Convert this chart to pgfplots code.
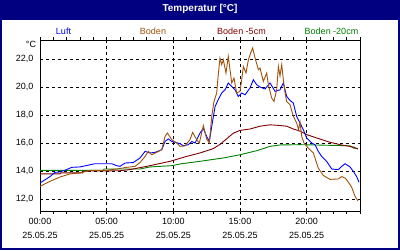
\documentclass[border=0pt]{standalone}
\usepackage{pgfplots}
\pgfplotsset{compat=1.18}
\usepackage{fontspec}
\setmainfont{Liberation Sans}
\definecolor{navy}{RGB}{0,0,128}
\definecolor{cLuft}{RGB}{0,0,255}
\definecolor{cBoden}{RGB}{160,82,10}
\definecolor{cB5}{RGB}{128,0,0}
\definecolor{cB20}{RGB}{0,128,0}
\begin{document}
\begin{tikzpicture}[x=1pt,y=1pt]
\fill[navy] (0,0) rectangle (400,250);
\fill[white] (2,2) rectangle (398,230);
\node[white,font=\fontsize{10}{12}\selectfont\bfseries] at (200,241) {Temperatur [°C]};
\node[cLuft,font=\fontsize{9}{11}\selectfont] at (63.5,219) {Luft};
\node[cBoden,font=\fontsize{9}{11}\selectfont] at (153,219) {Boden};
\node[cB5,font=\fontsize{9}{11}\selectfont] at (241.5,219) {Boden -5cm};
\node[cB20,font=\fontsize{9}{11}\selectfont] at (331.5,219) {Boden -20cm};
\node[black,font=\fontsize{9}{11}\selectfont] at (31,206) {°C};
\begin{axis}[
  at={(40pt,39pt)}, anchor=south west,
  scale only axis, width=320pt, height=171pt,
  xmin=0, xmax=24, ymin=11.14, ymax=23.36,
  axis line style={black, line width=0.8pt},
  xtick={0,5,10,15,20},
  xticklabels={{00:00\\25.05.25},{05:00\\25.05.25},{10:00\\25.05.25},{15:00\\25.05.25},{20:00\\25.05.25}},
  xticklabel style={align=center, font=\fontsize{9}{14}\selectfont, yshift=-1pt},
  minor xtick={1,2,3,4,6,7,8,9,11,12,13,14,16,17,18,19,21,22,23,24},
  ytick={12,14,16,18,20,22},
  yticklabels={{12,0},{14,0},{16,0},{18,0},{20,0},{22,0}},
  yticklabel style={font=\fontsize{9}{11}\selectfont},
  ytick style={draw=none},
  tick align=outside,
  major tick length=3pt, minor tick length=3pt,
  x tick style={black, line width=0.6pt},
  grid=major,
  major grid style={black, dashed, line width=0.6pt, dash pattern=on 3pt off 3pt},
  every axis plot/.append style={line width=0.9pt, mark=none},
  clip=true,
]
% Boden -20cm
\addplot[cB20] coordinates {
(0,14.04) (4.75,14.04) (4.8,14.14) (7.5,14.14) (8.25,14.29) (9.88,14.38) (10.63,14.52)
(12.0,14.69) (12.5,14.76) (13.75,14.93) (15.0,15.16) (16.25,15.45) (16.75,15.6)
(17.25,15.76) (18.0,15.86) (19.5,15.88) (21.0,15.85) (23.25,15.8) (23.5,15.64) (23.85,15.59)};
% Boden -5cm
\addplot[cB5] coordinates {
(0,13.79) (1.5,13.79) (1.55,13.86) (3.2,13.86) (3.25,13.99) (6.0,14.02) (6.75,14.1)
(8.0,14.33) (9.75,14.69) (11.0,15.04) (12.0,15.29) (12.75,15.52) (13.0,15.6) (13.5,15.9)
(14.0,16.3) (14.5,16.7) (15.0,16.9) (15.75,17.0) (16.5,17.2) (17.25,17.3) (18.0,17.25)
(18.5,17.2) (19.0,17.0) (19.5,16.85) (20.0,16.6) (20.75,16.36) (21.75,16.05) (22.5,15.88)
(23.5,15.71) (23.85,15.57)};
% Luft
\addplot[cLuft] coordinates {
(0.0,13.14) (0.75,13.6) (1.125,13.9) (1.5,13.93) (2.0,14.1) (2.38,14.26) (3.0,14.29)
(4.13,14.52) (5.38,14.52) (5.75,14.38) (6.0,14.33) (6.38,14.57) (6.98,14.6) (7.5,14.93)
(7.88,15.4) (8.25,15.29) (8.63,15.33) (9.13,15.52) (9.38,16.11) (9.62,16.29) (9.88,16.11)
(10.13,16.05) (10.5,15.95) (10.75,15.8) (11.13,15.88) (11.38,16.11) (11.63,16.0) (12.0,16.71)
(12.25,17.04) (12.5,16.47) (12.7,16.11) (12.88,17.19) (13.13,18.6) (13.37,19.1) (13.63,19.57)
(13.88,19.8) (14.12,20.29) (14.38,20.04) (14.63,19.8) (14.87,19.33) (15.13,19.57) (15.38,19.45)
(15.75,19.93) (16.0,20.52) (16.25,20.16) (16.5,20.0) (16.88,19.86) (17.25,20.29) (17.63,19.69)
(18.0,19.8) (18.25,20.29) (18.5,19.33) (18.75,19.04) (19.0,18.86) (19.25,17.9) (19.5,17.43)
(19.75,16.95) (20.0,16.36) (20.38,16.0) (20.63,15.88) (20.87,15.4) (21.13,15.04) (21.5,14.69)
(21.88,14.14) (22.37,14.1) (22.63,14.33) (22.88,14.52) (23.25,14.29) (23.5,13.97) (23.75,13.6)
(23.93,13.19)};
% Boden
\addplot[cBoden] coordinates {
(0.0,12.9) (0.75,13.26) (1.5,13.57) (2.25,13.79) (3.0,13.86) (3.75,14.04) (4.88,14.04)
(5.75,14.14) (6.5,14.26) (7.13,14.33) (7.5,14.6) (7.88,15.04) (8.13,15.4) (8.38,15.16)
(8.75,15.33) (9.13,15.52) (9.38,16.47) (9.55,16.71) (9.88,16.24) (10.25,16.0) (10.5,15.76)
(10.88,15.8) (11.25,16.24) (11.45,16.76) (11.75,16.24) (11.95,16.0) (12.25,17.24) (12.5,16.29)
(12.7,16.0) (12.88,17.9) (13.05,18.97) (13.25,19.57) (13.37,20.88) (13.5,22.07) (13.63,21.6)
(13.75,21.95) (13.95,21.0) (14.12,22.19) (14.25,21.24) (14.38,20.29) (14.55,20.64) (14.75,19.57)
(15.0,19.69) (15.13,20.52) (15.25,21.47) (15.45,21.0) (15.63,21.95) (15.8,22.43) (15.95,22.79)
(16.13,22.07) (16.38,21.24) (16.5,21.36) (16.75,20.4) (17.0,21.0) (17.13,20.16) (17.38,19.21)
(17.55,18.97) (17.75,19.8) (17.88,21.47) (18.0,20.8) (18.13,21.6) (18.25,20.52) (18.38,19.57)
(18.5,18.97) (18.75,18.74) (19.0,17.9) (19.25,17.43) (19.4,16.95) (19.5,17.5) (19.63,16.47)
(19.8,16.0) (20.12,15.64) (20.5,15.29) (20.87,14.21) (21.25,13.68) (21.75,13.4) (22.37,13.43)
(22.63,13.6) (22.88,13.5) (23.13,13.2) (23.37,12.85) (23.63,12.19) (23.85,11.85)};
\end{axis}
\end{tikzpicture}
\end{document}
